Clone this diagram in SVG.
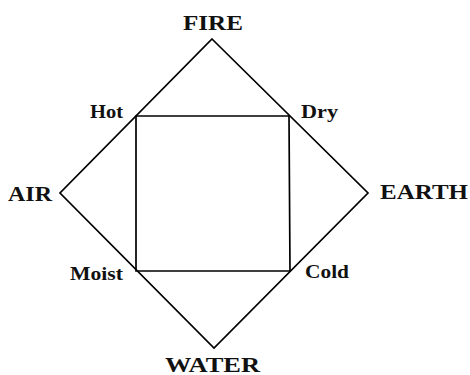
<svg xmlns="http://www.w3.org/2000/svg" width="470" height="375" viewBox="0 0 470 375">
<style>
.ln{fill:none;stroke:#000;stroke-width:1.7;stroke-linejoin:miter}
.t{font-family:"Liberation Serif","DejaVu Serif",serif;font-weight:bold;fill:#111;font-size:20px}
.s{font-size:19px}
</style>
<rect width="470" height="375" fill="#fff"/>
<g id="connectors">
<polygon class="ln" points="212,39 368,193 214,348 60,193"/>
<polygon class="ln" points="136,116 289,116 290,271 136,271"/>
</g>
<g id="fire"><text class="t" x="183" y="30" textLength="60" lengthAdjust="spacingAndGlyphs">FIRE</text></g>
<g id="air"><text class="t" x="8" y="201" textLength="44" lengthAdjust="spacingAndGlyphs">AIR</text></g>
<g id="earth"><text class="t" x="380" y="199" textLength="88" lengthAdjust="spacingAndGlyphs">EARTH</text></g>
<g id="water"><text class="t" x="165" y="372" textLength="95" lengthAdjust="spacingAndGlyphs">WATER</text></g>
<g id="hot"><text class="t s" x="90" y="118" textLength="33" lengthAdjust="spacingAndGlyphs">Hot</text></g>
<g id="dry"><text class="t s" x="301" y="118" textLength="37" lengthAdjust="spacingAndGlyphs">Dry</text></g>
<g id="moist"><text class="t s" x="70" y="280" textLength="53" lengthAdjust="spacingAndGlyphs">Moist</text></g>
<g id="cold"><text class="t s" x="305" y="278" textLength="44" lengthAdjust="spacingAndGlyphs">Cold</text></g>
</svg>
